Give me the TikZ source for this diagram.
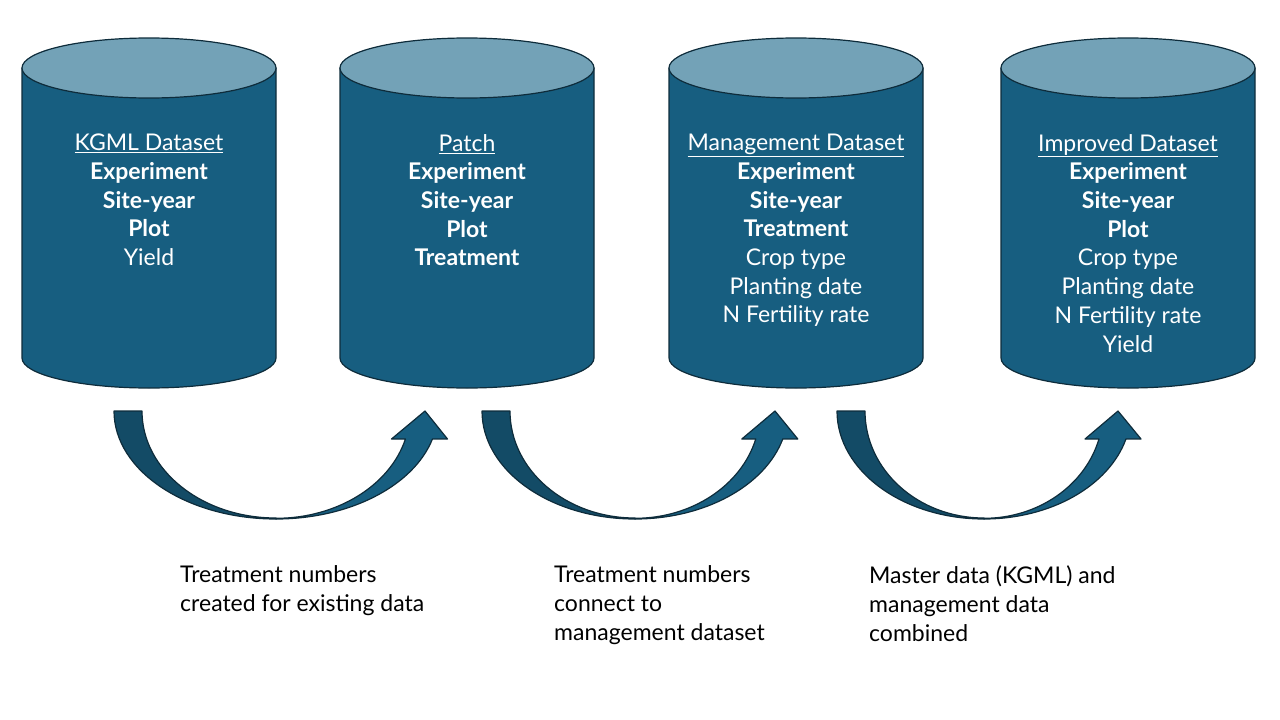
\documentclass[tikz,border=0pt]{standalone}
\usepackage{fontspec}
\setmainfont{Lato}
\usetikzlibrary{calc,positioning}

\definecolor{dbbody}{HTML}{175E80}
\definecolor{dbtop}{HTML}{73A2B7}
\definecolor{dbline}{HTML}{0E2C3B}
\definecolor{arrdark}{HTML}{134B66}

\begin{document}
\begin{tikzpicture}[
    x=1pt, y=-1pt,
    line join=round,
    body/.style    = {draw=dbline, fill=dbbody, line width=1.2pt},
    lid/.style     = {draw=dbline, fill=dbtop, line width=1.2pt},
    tail/.style    = {draw=dbline, fill=arrdark, line width=1.2pt},
    shaft/.style   = {draw=dbline, fill=dbbody, line width=1.2pt},
    dbtext/.style  = {text=white, align=center, inner sep=0pt, anchor=north,
                      font=\fontsize{23}{28.7}\selectfont},
    note/.style    = {text=black, align=left, inner sep=0pt, anchor=north west,
                      font=\fontsize{23}{29}\selectfont},
  ]

	% Rahmen
	\useasboundingbox (0,0) rectangle (1280,720);

	% Datenbanken
	\foreach \m in {149,467,796,1128}{
		\draw[body] (\m-127,68) -- (\m-127,358)
			arc[start angle=180, end angle=0, x radius=127, y radius=30]
			-- (\m+127,68) -- cycle;
		\draw[lid] (\m,68) ellipse[x radius=127, y radius=30];
	}

	% Inhalte
	\node[dbtext] (kgml) at (149,134) {\underline{KGML Dataset}\\
		\textbf{Experiment}\\ \textbf{Site-year}\\ \textbf{Plot}\\ Yield};
	\node[dbtext] (patch) at (467,134) {\underline{Patch}\\
		\textbf{Experiment}\\ \textbf{Site-year}\\ \textbf{Plot}\\ \textbf{Treatment}};
	\node[dbtext] (mgmt) at (796,134) {\underline{Management Dataset}\\
		\textbf{Experiment}\\ \textbf{Site-year}\\ \textbf{Treatment}\\
		Crop type\\ Planting date\\ N Fertility rate};
	\node[dbtext] (impr) at (1128,134) {\underline{Improved Dataset}\\
		\textbf{Experiment}\\ \textbf{Site-year}\\ \textbf{Plot}\\
		Crop type\\ Planting date\\ N Fertility rate\\ Yield};

	% gebogene Pfeile
	\foreach \c/\r in {276/162, 635/153, 984/147}{
		\draw[tail] (\c-\r,411)
			arc[start angle=180, end angle=90, x radius=\r, y radius=108]
			-- (\c,518)
			arc[start angle=90, end angle=180, x radius=\r-28, y radius=107]
			-- cycle;
		\draw[shaft] (\c,519)
			arc[start angle=90, end angle=15, x radius=\r, y radius=108]
			-- ({\c+0.966*\r+15},439) -- ({\c+\r-13},411)
			-- ({\c+0.966*\r-41},439) -- ({\c+0.966*(\r-28)},439)
			arc[start angle=15, end angle=90, x radius=\r-28, y radius=107]
			-- cycle;
	}

	% Erlaeuterungen
	\node[note] (n1) at (180,565) {Treatment numbers\\ created for existing data};
	\node[note] (n2) at (554,565) {Treatment numbers\\ connect to\\ management dataset};
	\node[note] (n3) at (869,565) {Master data (KGML) and\\ management data\\ combined};

\end{tikzpicture}
\end{document}
